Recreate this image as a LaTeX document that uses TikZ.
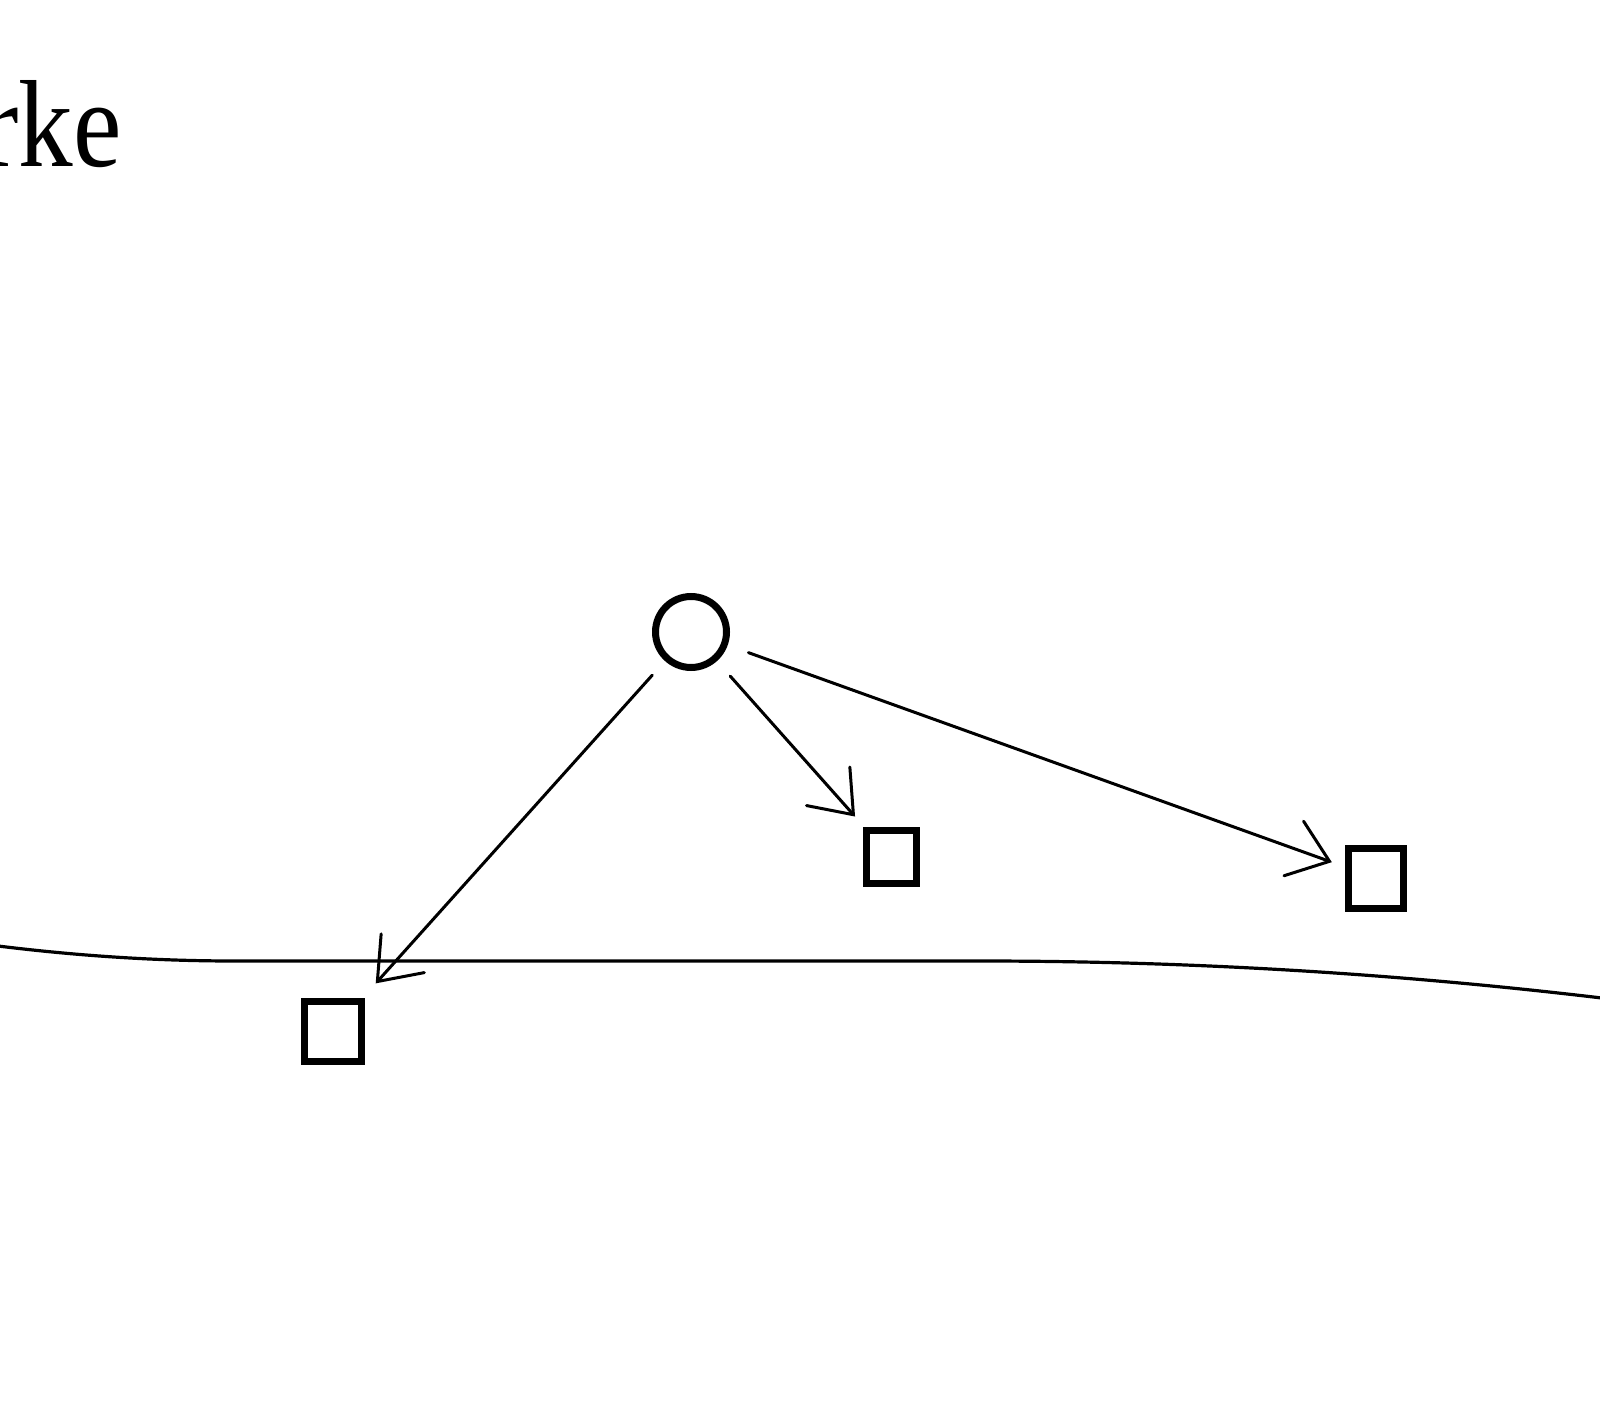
\documentclass[tikz,border=0pt]{standalone}
\usepackage{fontspec}
\setmainfont{Liberation Serif}
\usetikzlibrary{arrows.meta}
\begin{document}
\begin{tikzpicture}[x=0.5pt,y=-0.5pt,
  sqbox/.style={draw, rectangle, line width=3.5pt, inner sep=0pt},
  circnode/.style={draw, circle, line width=3.5pt, inner sep=0pt, minimum size=35.5pt},
  conn/.style={line width=1.5pt, line cap=round, -{Straight Barb[length=19pt,width=29pt,line cap=round]}},
  ground/.style={line width=1.6pt}]
\useasboundingbox (0,0) rectangle (1600,1428);
\node[anchor=base east, inner sep=0pt, font=\fontsize{62pt}{62pt}\selectfont] (lbl) at (122,167) {\scalebox{0.88}[1]{rke}};
\node[circnode] (c) at (691,632) {};
\node[sqbox, minimum width=28.5pt, minimum height=30pt] (sqA) at (333,1031) {};
\node[sqbox, minimum width=25pt, minimum height=26.5pt] (sqB) at (891,857) {};
\node[sqbox, minimum width=27.5pt, minimum height=30pt] (sqC) at (1376,878) {};
\coordinate (g0) at (-6,945.5);
\coordinate (g1) at (235,961);
\coordinate (g2) at (980,961);
\coordinate (g3) at (1606,998.5);
\draw[ground] (g0) .. controls (78,956) and (157,961) .. (g1) -- (g2) .. controls (1187,961) and (1393,973) .. (g3);
\draw[conn, shorten <=9.5pt, shorten >=9.5pt] (c) -- (sqA);
\draw[conn, shorten <=10pt, shorten >=7pt] (c) -- (sqB);
\draw[conn, shorten <=11pt, shorten >=7pt] (c) -- (sqC);
\end{tikzpicture}
\end{document}
